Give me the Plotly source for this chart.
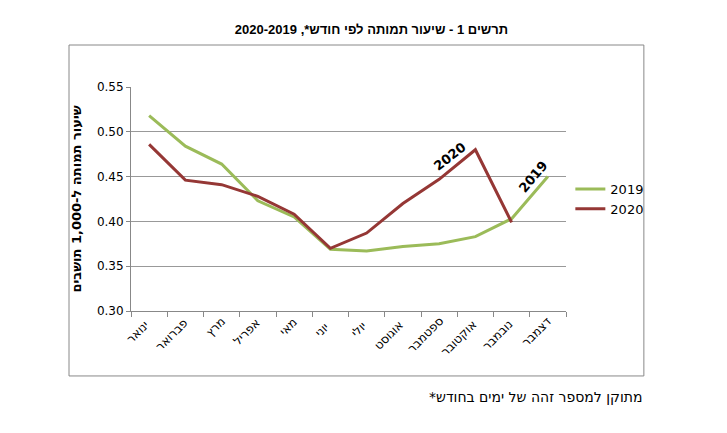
import plotly.graph_objects as go

months = ["ינואר","פברואר","מרץ","אפריל","מאי","יוני","יולי","אוגוסט","ספטמבר","אוקטובר","נובמבר","דצמבר"]
v2019 = [0.518,0.484,0.464,0.423,0.405,0.369,0.367,0.372,0.375,0.383,0.403,0.450]
v2020 = [0.486,0.446,0.441,0.428,0.408,0.370,0.387,0.420,0.447,0.480,0.399,None]

fig = go.Figure()
fig.add_trace(go.Scatter(x=list(range(12)), y=v2019, name="2019", mode="lines",
                         line=dict(color="#9BBB59", width=3)))
fig.add_trace(go.Scatter(x=list(range(12)), y=v2020, name="2020", mode="lines",
                         line=dict(color="#953735", width=3)))

anns = []
for i, m in enumerate(months):
    w = len(m) * 7.5
    d = w / 2 * 0.7071
    anns.append(dict(text=m, x=i, y=0, xref="x", yref="paper", showarrow=False,
                     textangle=-45, xanchor="center", yanchor="middle",
                     xshift=-d + 2, yshift=-d - 8, font=dict(size=12)))
anns += [
    dict(text="<b>2020</b>", x=8.3, y=0.472, xref="x", yref="y", showarrow=False,
         textangle=-38, font=dict(size=13)),
    dict(text="<b>2019</b>", x=10.6, y=0.45, xref="x", yref="y", showarrow=False,
         textangle=-50, font=dict(size=13)),
    dict(text="*מתוקן למספר זהה של ימים בחודש", x=1.18, y=-0.43, xref="paper", yref="paper",
         xanchor="right", showarrow=False, font=dict(size=14)),
]

fig.update_layout(
    width=727, height=433, paper_bgcolor="white", plot_bgcolor="white",
    margin=dict(l=123, r=169, t=79, b=130),
    font=dict(family="DejaVu Sans", size=12, color="black"),
    title=dict(text="<b>תרשים 1 - שיעור תמותה לפי חודש*, 2020-2019</b>", x=0.5, xanchor="center",
               y=0.95, yanchor="middle", font=dict(size=13, family="Liberation Sans")),
    showlegend=True,
    legend=dict(x=1.01, y=0.5, xanchor="left", yanchor="middle", font=dict(size=13),
                bgcolor="rgba(0,0,0,0)"),
    xaxis=dict(range=[-0.5, 11.5], showline=True, linecolor="#888", ticks="outside",
               tickvals=[i - 0.5 for i in range(13)], showticklabels=False,
               ticklen=5, tickcolor="#888", showgrid=False, zeroline=False),
    yaxis=dict(range=[0.30, 0.55], dtick=0.05, tickformat=".2f", showline=True,
               linecolor="#888", gridcolor="#999", ticks="outside", ticklen=4,
               tickcolor="#888", tickfont=dict(size=12),
               title=dict(text="<b>שיעור תמותה ל-1,000 תושבים</b>", standoff=12,
                          font=dict(size=13))),
    shapes=[dict(type="rect", xref="paper", yref="paper", x0=-0.1425, x1=1.179,
                 y0=-0.29, y1=1.1875, line=dict(color="#888", width=1))],
    annotations=anns,
)
fig.write_html("out.html")
